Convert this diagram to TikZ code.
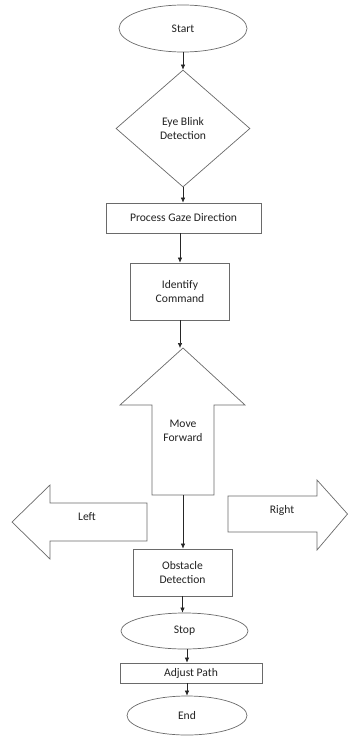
\documentclass[tikz,border=0pt]{standalone}
\usepackage{fontspec}
\setmainfont{Carlito}
\usetikzlibrary{shapes.geometric,arrows.meta}
\definecolor{edgegray}{HTML}{6A6A6A}
\definecolor{txt}{HTML}{222222}
\tikzset{
  shapeline/.style={draw=edgegray,line width=0.7pt,fill=white},
  flowbox/.style={shapeline,rectangle,inner sep=0pt,align=center,text=txt,font=\fontsize{11.6}{14.5}\selectfont},
  flowell/.style={shapeline,ellipse,inner sep=0pt,align=center,text=txt,font=\fontsize{11.6}{14.5}\selectfont},
  flowdia/.style={shapeline,diamond,inner sep=0pt,align=center,text=txt,font=\fontsize{11.6}{14.5}\selectfont},
  lbl/.style={align=center,text=txt,font=\fontsize{11.6}{14.5}\selectfont,inner sep=0pt},
  conn/.style={draw=black!85,line width=0.6pt,-{Latex[length=5pt,width=4.5pt]}}
}
\begin{document}
\begin{tikzpicture}[x=1pt,y=-1pt]
\useasboundingbox (0,0) rectangle (348,736);
% nodes
\node[flowell,minimum width=128pt,minimum height=47pt] (start) at (183,28.5) {Start};
\node[flowdia,minimum width=134pt,minimum height=117pt] (blink) at (183,128.5) {Eye Blink\\Detection};
\node[flowbox,minimum width=155pt,minimum height=30pt] (gaze) at (183.5,218) {Process Gaze Direction};
\node[flowbox,minimum width=99pt,minimum height=57pt] (ident) at (180,291.5) {Identify\\Command};
% Move forward block arrow
\coordinate (mftip) at (183,348);
\coordinate (mfbase) at (183,495);
\draw[shapeline] (mftip) -- (245,405) -- (214,405) -- (214,495) -- (152,495) -- (152,405) -- (120,405) -- cycle;
\node[lbl] (mf) at (183,431) {Move\\Forward};
% Left block arrow
\draw[shapeline] (12,522) -- (50,485) -- (50,503) -- (147,503) -- (147,541) -- (50,541) -- (50,559) -- cycle;
\node[lbl] (left) at (87,517) {Left};
% Right block arrow
\draw[shapeline] (228,496) -- (317,496) -- (317,480) -- (347.5,514) -- (317,550) -- (317,532) -- (228,532) -- cycle;
\node[lbl] (right) at (282,510) {Right};
\node[flowbox,minimum width=99pt,minimum height=47pt] (obst) at (182.5,572.5) {Obstacle\\Detection};
\node[flowell,minimum width=127pt,minimum height=36pt] (stop) at (184.5,631) {Stop};
\node[flowbox,minimum width=142pt,minimum height=20pt] (adjust) at (191,673) {Adjust Path};
\node[flowell,minimum width=120pt,minimum height=39pt] (end) at (187,715.5) {End};
% connectors
\draw[conn] (start.south) -- (blink.north);
\draw[conn] (blink.south) -- (blink.south |- gaze.north);
\draw[conn] (ident.north |- gaze.south) -- (ident.north);
\draw[conn] (ident.south) -- (ident.south |- mftip);
\draw[conn] (mfbase) -- (mfbase |- obst.north);
\draw[conn] (obst.south) -- (obst.south |- stop.north);
\draw[conn] ([xshift=2.5pt]stop.south) -- ([xshift=2.5pt]stop.south |- adjust.north);
\draw[conn] (end.north |- adjust.south) -- (end.north);
\end{tikzpicture}
\end{document}
